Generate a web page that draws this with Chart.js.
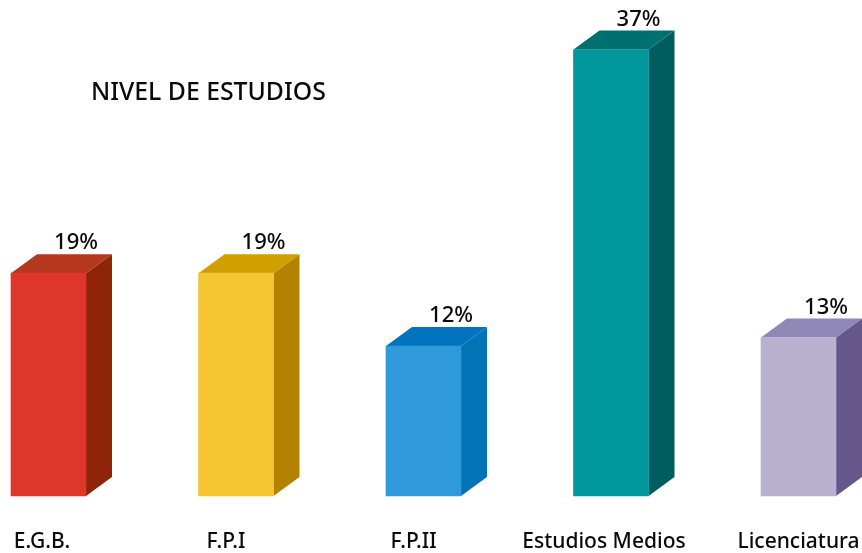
<!DOCTYPE html>
<html lang="es">
<head>
<meta charset="utf-8">
<title>Nivel de estudios</title>
<style>html,body{margin:0;padding:0;background:#fff}canvas{display:block}</style>
<script src="https://cdn.jsdelivr.net/npm/chart.js@4"></script>
</head>
<body>
<canvas id="c" width="862" height="553"></canvas>
<script>
// Data
const titleText = "NIVEL DE ESTUDIOS";
const categories = ["E.G.B.", "F.P.I", "F.P.II", "Estudios Medios", "Licenciatura"];
const barHeights = [18.42, 18.42, 12.4, 36.9, 13.1];   // as drawn
const printedLabels = ["19%", "19%", "12%", "37%", "13%"]; // as printed

// Styles
const frontColors = ["#DE362B", "#F5C531", "#2F9AD9", "#00979D", "#BAB0D0"];
const topColors   = ["#B5371F", "#CFA000", "#0274BF", "#006F70", "#8F87B5"];
const sideColors  = ["#8E2508", "#B38300", "#0274B5", "#005C5F", "#655789"];
const tickNudge   = [-6.5, -10, -10, -7, 0];
const depthX = 26, depthY = 19;
const textColor = "#0A0A0A";
const fontFamily = '"Noto Sans", sans-serif';

const box3d = {
  id: "box3d",
  afterLayout(chart) {
    chart.titleBlock.left = 91;
  },
  beforeDraw(chart) {
    const x = chart.scales.x;
    x.getLabelItems().forEach((item, i) => {
      item.options.translation[0] = x.getPixelForTick(i) + tickNudge[i];
    });
  },
  beforeDatasetsDraw(chart) {
    const { ctx } = chart;
    chart.getDatasetMeta(0).data.forEach((bar, i) => {
      const l = bar.x - bar.width / 2, r = bar.x + bar.width / 2;
      const t = bar.y, b = bar.base;
      ctx.save();
      ctx.fillStyle = sideColors[i];
      ctx.beginPath();
      ctx.moveTo(r, b);
      ctx.lineTo(r + depthX, b - depthY);
      ctx.lineTo(r + depthX, t - depthY);
      ctx.lineTo(r, t);
      ctx.closePath();
      ctx.fill();
      ctx.fillStyle = topColors[i];
      ctx.beginPath();
      ctx.moveTo(l, t);
      ctx.lineTo(l + depthX, t - depthY);
      ctx.lineTo(r + depthX, t - depthY);
      ctx.lineTo(r, t);
      ctx.closePath();
      ctx.fill();
      ctx.restore();
    });
  },
  afterDatasetsDraw(chart) {
    const { ctx } = chart;
    ctx.save();
    ctx.font = "500 22px " + fontFamily;
    ctx.fillStyle = textColor;
    ctx.textAlign = "center";
    ctx.textBaseline = "middle";
    chart.getDatasetMeta(0).data.forEach((bar, i) => {
      ctx.fillText(printedLabels[i], bar.x + depthX + 1.5, bar.y - depthY - 11);
    });
    ctx.restore();
  }
};

new Chart(document.getElementById("c"), {
  type: "bar",
  data: {
    labels: categories,
    datasets: [{
      data: barHeights,
      backgroundColor: frontColors,
      barThickness: 75,
      borderWidth: 0,
      clip: false
    }]
  },
  options: {
    responsive: false,
    animation: false,
    layout: { padding: { left: 48.5, right: 63.5, top: 0, bottom: 0 } },
    plugins: {
      legend: { display: false },
      tooltip: { enabled: false },
      title: {
        display: true,
        text: titleText,
        align: "start",
        color: textColor,
        font: { family: fontFamily, size: 24.8, weight: "500", lineHeight: 1 },
        padding: { top: 81, bottom: -105.8 }
      }
    },
    scales: {
      x: {
        type: "category",
        offset: false,
        grid: { display: false, drawTicks: false },
        border: { display: false },
        afterFit(scale) { scale.height = 57; scale.paddingLeft = 0; scale.paddingRight = 0; },
        ticks: {
          color: textColor,
          font: { family: fontFamily, size: 21, weight: "500" },
          padding: 33,
          autoSkip: false,
          maxRotation: 0,
          minRotation: 0
        }
      },
      y: {
        display: false,
        min: 0,
        max: 41
      }
    }
  },
  plugins: [box3d]
});
</script>
</body>
</html>
